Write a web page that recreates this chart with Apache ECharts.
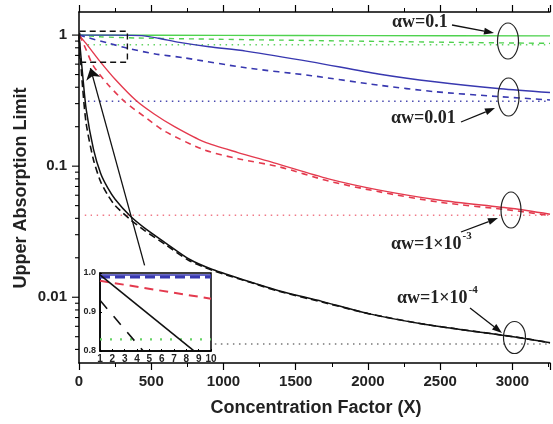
<!DOCTYPE html>
<html><head><meta charset="utf-8">
<script src="https://cdn.jsdelivr.net/npm/echarts@6/dist/echarts.min.js"></script>
<style>html,body{margin:0;padding:0;background:#fff}#c{width:553px;height:424px}</style>
</head><body><div id="c"></div>
<script>
// ---------- data ----------
const xTickValues = [0, 500, 1000, 1500, 2000, 2500, 3000];
const yLabelValues = [0.01, 0.1, 1];
const yMinorTicks = [0.004,0.005,0.006,0.007,0.008,0.009,0.02,0.03,0.04,0.05,0.06,0.07,0.08,0.09,0.2,0.3,0.4,0.5,0.6,0.7,0.8,0.9];

const greenSolid  = [[0,1],[1000,0.995],[2000,0.99],[3260,0.987]];
const greenDashed = [[0,1],[150,0.97],[400,0.95],[800,0.935],[1400,0.915],[2070,0.895],[2600,0.88],[3100,0.868],[3260,0.865]];
const blueSolid   = [[0,1],[250,1],[434,0.99],[550,0.945],[695,0.88],[900,0.815],[1154,0.755],[1610,0.625],[2072,0.505],[2462,0.44],[2918,0.39],[3260,0.365]];
const blueDashed  = [[0,1],[64,0.954],[200,0.87],[339,0.792],[520,0.72],[730,0.67],[1154,0.563],[1610,0.49],[2072,0.415],[2462,0.37],[2897,0.34],[3260,0.32]];
const redSolid    = [[0,1],[50,0.86],[145,0.63],[250,0.46],[397,0.315],[520,0.25],[661,0.2],[867,0.153],[1100,0.127],[1350,0.106],[1727,0.08],[2070,0.066],[2500,0.055],[3000,0.0475],[3260,0.043]];
const redDashed   = [[0,0.99],[10,0.965],[50,0.77],[98,0.585],[200,0.42],[317,0.31],[450,0.24],[592,0.185],[867,0.133],[1100,0.114],[1383,0.099],[1727,0.077],[2070,0.064],[2500,0.053],[3000,0.046],[3260,0.042]];
const blackSolid  = [[0,1],[10,0.76],[25,0.5],[50,0.27],[100,0.135],[150,0.088],[200,0.068],[250,0.056],[351,0.042],[450,0.034],[603,0.0258],[764,0.0195],[924,0.0163],[1223,0.0127],[1383,0.0112],[1681,0.0093],[2003,0.0075],[2400,0.0062],[3005,0.005],[3260,0.0045]];
const blackDashed = [[0,0.98],[5,0.8],[25,0.4],[50,0.21],[100,0.112],[150,0.076],[200,0.06],[250,0.05],[351,0.0395],[450,0.0325],[603,0.025],[764,0.019],[924,0.016],[1223,0.0126],[1383,0.0111],[1681,0.0092],[2003,0.0075],[2400,0.0062],[3005,0.005],[3260,0.0045]];

const refXGreen = [60, 3260], refXBlue = [62, 3260], refXRed = [40, 3260], refXBlack = [900, 3260];
const greenRef = 0.845, blueRef = 0.313, redRef = 0.0423, blackRef = 0.0044;

const zoomBoxX = [5, 335];
const zoomBoxY = [0.62, 1.07];
const pointerFrom = [454, 0.0175];
const pointerTo = [79, 0.56];

// inset (X = 1..10)
const insetX = [1, 10];
const insetBlueSolid = [0.995, 0.995];
const insetBlueDashed = [0.99, 0.99];
const insetRedDashed = [0.98, 0.934];
const insetBlackSolid = [0.995, 0.765];
const insetBlackDashed = [0.93, 0.596];
const insetGreenDotted = [0.83, 0.83];

// ---------- chart ----------
const C = { green:'#4fd24f', blue:'#3838b0', red:'#e43a4e', black:'#111111',
            greenDot:'#66d466', blueDot:'#4a4ab0', redDot:'#f07a88', blackDot:'#777777' };
const XMAX = 3260;
const pair = (xs, ys) => xs.map((x, i) => [x, ys[i]]);
const ref = (xs, v) => xs.map(x => [x, v]);

function mainLine(data, color, type, width) {
  return { type:'line', xAxisIndex:0, yAxisIndex:0, data, symbol:'none', smooth:0.25,
           lineStyle:{ color, width: width || 1.4, type: type || 'solid' }, z:2, silent:true, animation:false };
}
function insetLine(data, color, type, width) {
  return { type:'line', xAxisIndex:2, yAxisIndex:1, data, symbol:'none',
           lineStyle:{ color, width: width || 1.5, type: type || 'solid' }, z:7, silent:true, animation:false };
}
function tickSeries(values, len) {
  return { type:'custom', xAxisIndex:0, yAxisIndex:0, silent:true, clip:false, z:3, animation:false,
    data: values.map(v => [0, v]),
    renderItem: (p, api) => {
      const pt = api.coord([api.value(0), api.value(1)]);
      return { type:'line', shape:{ x1:pt[0]-len, y1:pt[1], x2:pt[0], y2:pt[1] },
               style:{ stroke:'#000', lineWidth:1.1 } };
    } };
}

const axisFont = { fontFamily:'Liberation Sans', fontWeight:'bold', color:'#222' };
const box = [[zoomBoxX[0],zoomBoxY[1]],[zoomBoxX[1],zoomBoxY[1]],[zoomBoxX[1],zoomBoxY[0]],[zoomBoxX[0],zoomBoxY[0]],[zoomBoxX[0],zoomBoxY[1]]];

function arrow(x1, y1, x2, y2, h, w) {
  h = h || 10; w = w || 3.5;
  const L = Math.hypot(x2-x1, y2-y1), dx = (x2-x1)/L, dy = (y2-y1)/L;
  const bx = x2 - dx*h, by = y2 - dy*h;
  return [
    { type:'line', shape:{ x1, y1, x2:bx, y2:by }, style:{ stroke:'#111', lineWidth:1.3 }, z:10 },
    { type:'polygon', shape:{ points:[[x2,y2],[bx - dy*w, by + dx*w],[bx + dy*w, by - dx*w]] }, style:{ fill:'#111' }, z:10 }
  ];
}
const serif = '"Liberation Serif", "DejaVu Serif", serif';
const mctx = document.createElement('canvas').getContext('2d');
function fontOf(size) { return 'bold ' + size + 'px ' + serif; }
function label(x, y, text, sup) {
  const size = 18;
  const out = [{ type:'text', x, y, z:10, style:{ text, fill:'#222', font:fontOf(size), align:'left', verticalAlign:'middle' } }];
  if (sup) {
    mctx.font = fontOf(size);
    const w = mctx.measureText(text).width;
    out.push({ type:'text', x: x + w + 1, y: y - 8, z:10, style:{ text:sup, fill:'#222', font:fontOf(11), align:'left', verticalAlign:'middle' } });
  }
  return out;
}
function ell(cx, cy, rx, ry) {
  return { type:'ellipse', shape:{ cx, cy, rx, ry }, style:{ fill:null, stroke:'#222', lineWidth:1.2 }, z:10 };
}

const option = {
  backgroundColor:'#fff',
  animation:false,
  grid:[
    { left:79, top:12, right:0, bottom:61, show:false },
    { left:100, top:273, width:111, height:78, show:true, backgroundColor:'#fff', borderColor:'#000', borderWidth:1.5, z:5 }
  ],
  xAxis:[
    { type:'value', gridIndex:0, min:0, max:XMAX, interval:500, position:'bottom',
      axisLine:{ onZero:false, lineStyle:{ color:'#000', width:1.5 } },
      axisTick:{ length:7, lineStyle:{ color:'#000', width:1.2 } },
      minorTick:{ show:true, splitNumber:2, length:4, lineStyle:{ color:'#000', width:1 } },
      splitLine:{ show:false },
      axisLabel:{ ...axisFont, fontSize:15, margin:11, formatter: v => xTickValues.includes(v) ? String(v) : '' } },
    { type:'value', gridIndex:0, min:0, max:XMAX, interval:500, position:'top',
      axisLine:{ onZero:false, lineStyle:{ color:'#000', width:1.5 } },
      axisTick:{ length:7, lineStyle:{ color:'#000', width:1.2 } },
      minorTick:{ show:true, splitNumber:2, length:4, lineStyle:{ color:'#000', width:1 } },
      splitLine:{ show:false }, axisLabel:{ show:false } },
    { type:'value', gridIndex:1, min:1, max:10, interval:1, z:6,
      axisLine:{ onZero:false, lineStyle:{ color:'#000', width:1.5 } },
      axisTick:{ inside:true, length:2, lineStyle:{ color:'#000' } },
      splitLine:{ show:false },
      axisLabel:{ ...axisFont, fontSize:10, margin:3 } }
  ],
  yAxis:[
    { type:'log', logBase:10, gridIndex:0, min:0.00315, max:1.5,
      axisLine:{ show:true, onZero:false, lineStyle:{ color:'#000', width:1.5 } },
      axisTick:{ show:false }, minorTick:{ show:false }, splitLine:{ show:false },
      axisLabel:{ ...axisFont, fontSize:15, margin:12,
        formatter: v => { const r = Number(Number(v).toPrecision(6)); return yLabelValues.includes(r) ? String(r) : ''; } } },
    { type:'value', gridIndex:1, min:0.8, max:1.0, interval:0.1, z:6,
      axisLine:{ show:true, onZero:false, lineStyle:{ color:'#000', width:1.5 } },
      axisTick:{ inside:true, length:2, lineStyle:{ color:'#000' } },
      splitLine:{ show:false },
      axisLabel:{ ...axisFont, fontSize:9, margin:4, formatter: v => v.toFixed(1) } }
  ],
  series:[
    mainLine(ref(refXGreen, greenRef), C.greenDot, [1.5,4.5], 1.5),
    mainLine(ref(refXBlue, blueRef), C.blueDot, [1.5,4.5], 1.5),
    mainLine(ref(refXRed, redRef), C.redDot, [1.5,4.5], 1.5),
    mainLine(ref(refXBlack, blackRef), C.blackDot, [1.5,4.5], 1.5),
    mainLine(greenSolid, C.green),
    mainLine(greenDashed, C.green, [5,5]),
    mainLine(blueSolid, C.blue),
    mainLine(blueDashed, C.blue, [6,5], 1.6),
    mainLine(redSolid, C.red),
    mainLine(redDashed, C.red, [6,5], 1.6),
    mainLine(blackSolid, C.black, 'solid', 1.5),
    mainLine(blackDashed, C.black, [7,4], 1.6),
    { type:'line', xAxisIndex:0, yAxisIndex:0, data:box, symbol:'none', z:3, silent:true, animation:false,
      lineStyle:{ color:'#111', width:1.4, type:[6,4] },
      markLine:{ silent:true, symbol:['none','arrow'], symbolSize:11, animation:false,
        label:{ show:false }, lineStyle:{ color:'#111', width:1.3, type:'solid' },
        data:[[ { coord:pointerFrom }, { coord:pointerTo } ]] } },
    tickSeries(yLabelValues, 7),
    tickSeries(yMinorTicks, 4),
    insetLine(pair(insetX, insetGreenDotted), C.greenDot, [2,8], 2.2),
    insetLine(pair(insetX, insetBlueSolid), C.blue, 'solid', 1.5),
    insetLine(pair(insetX, insetBlueDashed), C.blue, [10,5], 3),
    insetLine(pair(insetX, insetRedDashed), C.red, [9,6], 2),
    insetLine(pair(insetX, insetBlackSolid), C.black, 'solid', 1.6),
    insetLine(pair(insetX, insetBlackDashed), C.black, [11,10], 1.6)
  ],
  graphic:[
    { type:'text', x:21, y:188, rotation:Math.PI/2, z:10,
      style:{ text:'Upper Absorption Limit', font:'bold 18px "Liberation Sans"', fill:'#222', align:'center', verticalAlign:'middle' } },
    { type:'text', x:316, y:408, z:10,
      style:{ text:'Concentration Factor (X)', font:'bold 18px "Liberation Sans"', fill:'#222', align:'center', verticalAlign:'middle' } },
    ell(508, 41, 10.5, 18), ell(508.5, 97, 10.5, 19), ell(511, 210, 10, 18), ell(514.5, 337.5, 11, 16),
    ...label(392, 22, 'αw=0.1'),
    ...label(391, 118, 'αw=0.01'),
    ...label(391, 244, 'αw=1×10', '-3'),
    ...label(397, 298, 'αw=1×10', '-4'),
    ...arrow(452, 25, 494, 33),
    ...arrow(461, 122, 495, 108),
    ...arrow(461, 232, 498, 218),
    ...arrow(470, 308, 502, 333)
  ]
};
const chart = echarts.init(document.getElementById('c'));
chart.setOption(option);
</script></body></html>
